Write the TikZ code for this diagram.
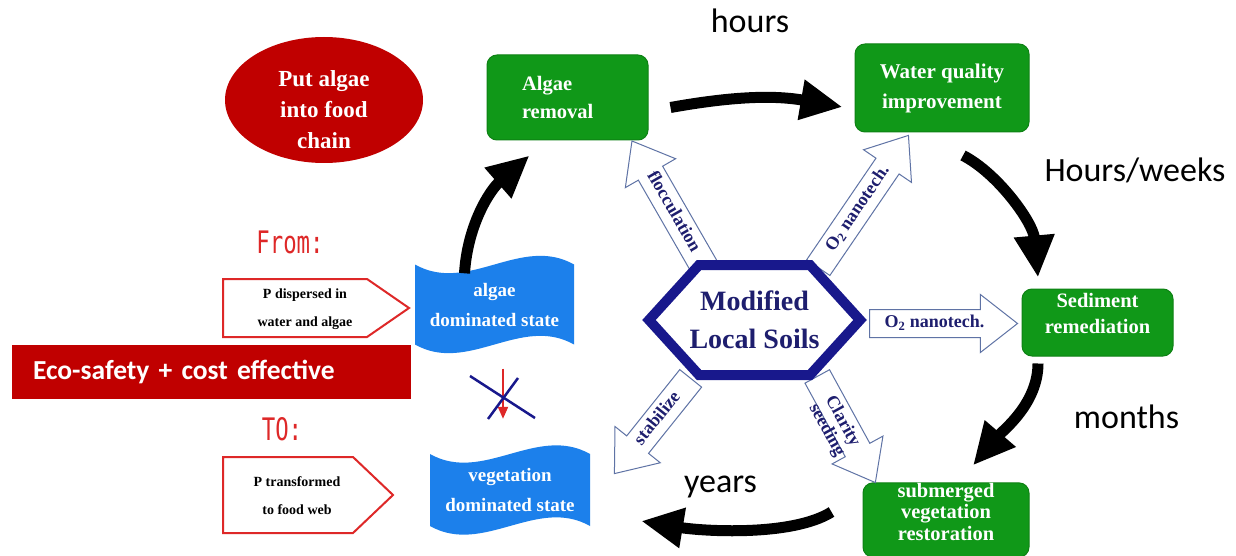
\documentclass[tikz,border=0pt]{standalone}
\usepackage{fontspec}
\setmainfont{Liberation Serif}
\newfontfamily\labelfont{Carlito}
\newfontfamily\gothicfont[FakeStretch=0.72]{DejaVu Sans Mono}
\usepackage{xcolor}
\usepackage{tikz}
\usetikzlibrary{arrows.meta}
\usetikzlibrary{shapes,positioning}

\definecolor{algaered}{RGB}{192,0,0}
\definecolor{boxgreen}{RGB}{16,152,24}
\definecolor{statblue}{RGB}{28,128,235}
\definecolor{soilnavy}{RGB}{24,24,140}
\definecolor{textnavy}{RGB}{30,30,110}
\definecolor{fromred}{RGB}{222,40,40}
\definecolor{outlineblue}{RGB}{95,115,165}

\tikzset{>=Triangle}
\tikzset{cycle-arrow/.style={line width=11pt, -{Triangle[length=42pt,width=38pt]}}}
\tikzset{green-box/.style={fill=boxgreen, draw=boxgreen!85!black, line width=1pt, rounded corners=10pt, text=white, inner sep=0pt, font=\fontsize{20.5}{28}\selectfont\bfseries, align=center}}
\tikzset{state-banner/.style={fill=white, inner sep=0pt, text=white, align=center, font=\fontsize{19}{30}\selectfont\bfseries,
    path picture={\fill[statblue] ([yshift=-9pt]path picture bounding box.north west) .. controls +(53pt,-30pt) and +(-53pt,30pt) .. ([yshift=-9pt]path picture bounding box.north east) -- ([yshift=9pt]path picture bounding box.south east) .. controls +(-53pt,30pt) and +(53pt,-30pt) .. ([yshift=9pt]path picture bounding box.south west) -- cycle;}}}
\tikzset{soil-arrow/.style={single arrow, draw=outlineblue, line width=1pt, fill=white, text=textnavy, font=\fontsize{18}{20}\selectfont\bfseries, minimum width=0pt, inner xsep=3pt, inner ysep=5.5pt, text height=12pt, text depth=4pt, single arrow head extend=15pt, single arrow tip angle=76, anchor=tail}}
\tikzset{soil-hex/.style={draw=soilnavy, line width=10pt, fill=white, line join=miter}}
\tikzset{soil-text/.style={text=textnavy, font=\fontsize{28}{38}\selectfont\bfseries, align=center}}
\tikzset{food-text/.style={text=white, font=\fontsize{23}{31}\selectfont\bfseries, align=center, inner sep=0pt}}
\tikzset{p-text/.style={font=\fontsize{14}{28}\selectfont\bfseries, align=center, inner sep=0pt}}
\tikzset{p-outline/.style={draw=fromred, line width=2pt, fill=white, line join=miter}}
\tikzset{time-label/.style={font=\labelfont\fontsize{34}{34}\selectfont, anchor=base}}
\tikzset{from-label/.style={font=\gothicfont\fontsize{31}{31}\selectfont, text=fromred, anchor=base}}
\tikzset{eco-box/.style={fill=algaered, text=white, font=\labelfont\bfseries\fontsize{27.5}{28}\selectfont, minimum height=54pt, text width=357pt, inner xsep=21pt, inner ysep=0pt, align=left}}
\tikzset{cross-line/.style={draw=soilnavy, line width=2.5pt}}
\tikzset{blocked-arrow/.style={draw=fromred, line width=2pt, -{Triangle[length=12pt,width=10pt]}}}

\begin{document}
\begin{tikzpicture}[x=1pt, y=-1pt]
            \path[use as bounding box, fill=white] (0,0) rectangle (1236,556);

            % left side
            \fill[algaered] (324,100) ellipse [x radius=99pt, y radius=63pt];
            \node[food-text] (food) at (324,110) {Put algae\\into food\\chain};
            \node[from-label] (from) at (290,253) {From:};
            \draw[p-outline] (223,279) -- (367,279) -- (409,308) -- (367,337) -- (223,337) -- cycle;
            \node[p-text] (pdisp) at (305,309) {P dispersed in\\water and algae};
            \node[eco-box] (eco) at (211.5,372) {Eco-safety + cost effective};
            \node[from-label] (to) at (282,440) {TO:};
            \draw[p-outline] (223,457) -- (353,457) -- (393,495) -- (353,533) -- (223,533) -- cycle;
            \node[p-text] (ptrans) at (297,496) {P transformed\\to food web};

            \node[state-banner, minimum width=159pt, minimum height=98pt] (algae) at (494.5,304.5) {algae\\dominated state};
            \node[state-banner, minimum width=160pt, minimum height=90pt] (veg) at (510,490) {vegetation\\dominated state};

            % green steps
            \node[green-box, minimum width=161pt, minimum height=85pt, text width=91pt, inner xsep=35pt, align=left] (removal) at (567.5,97.5) {Algae\\removal};
            \node[green-box, minimum width=174pt, minimum height=88pt, font=\fontsize{21}{30}\selectfont\bfseries] (waterq) at (942,88) {Water quality\\improvement};
            \node[green-box, minimum width=151pt, minimum height=67pt, font=\fontsize{20.5}{26}\selectfont\bfseries, text depth=19pt] (sed) at (1097.5,322.5) {Sediment\\remediation};
            \node[green-box, minimum width=166pt, minimum height=72pt, font=\fontsize{20.5}{21.5}\selectfont\bfseries, text depth=17pt] (subm) at (946,520) {submerged\\vegetation\\restoration};

            % modified local soils
            \node[soil-arrow, rotate=-60.1, shape border rotate=180, minimum height=146pt] (floc) at (705,268) {flocculation};
            \node[soil-arrow, rotate=55.7, minimum height=160pt] (otwo) at (818,268) {O\textsubscript{2} nanotech.};
            \node[soil-arrow, minimum height=148pt] (othree) at (869,323.5) {O\textsubscript{2} nanotech.};
            \node[soil-arrow, rotate=51.3, shape border rotate=180, minimum height=122pt] (stab) at (691,378) {stabilize};
            \node[soil-arrow, rotate=-61.3, minimum height=121pt] (clar) at (817,376) {\begin{tabular}[t]{@{}c@{}}Clarity\\[-2pt]seeding\end{tabular}};

            \coordinate (hexc) at (754.5,320);
            \draw[soil-hex] ([xshift=-105.5pt]hexc) -- ++(50pt,55pt) -- ++(111pt,0pt) -- ++(50pt,-55pt) -- ++(-50pt,-55pt) -- ++(-111pt,0pt) -- cycle;
            \node[soil-text] (soil) at (hexc) {Modified\\Local Soils};

            % cycle
            \draw[cycle-arrow] ([xshift=-30pt,yshift=-18pt]algae.north) .. controls +(3pt,48pt) and +(-40pt,-35pt) .. ([xshift=-38pt,yshift=-15pt]removal.south);
            \draw[cycle-arrow] ([xshift=22pt,yshift=-10pt]removal.east) to[bend left=10] ([xshift=-12pt,yshift=-19pt]waterq.west);
            \draw[cycle-arrow] ([xshift=21pt,yshift=-23pt]waterq.south) .. controls +(35pt,-18pt) and +(-5pt,55pt) .. ([xshift=-59.5pt,yshift=11pt]sed.north);
            \draw[cycle-arrow] ([xshift=-59.5pt,yshift=-7pt]sed.south) .. controls +(0pt,-40pt) and +(30pt,35pt) .. ([xshift=27pt,yshift=17pt]subm.north);
            \draw[cycle-arrow] ([xshift=-31pt,yshift=8pt]subm.west) .. controls +(-40pt,-25pt) and +(60pt,-10pt) .. ([xshift=51pt,yshift=-31pt]veg.east);

            % blocked shortcut
            \draw[blocked-arrow] ([xshift=8.5pt,yshift=-15pt]algae.south) -- ([xshift=-7pt,yshift=26pt]veg.north);
            \coordinate (cross) at (503,397);
            \draw[cross-line] ([shift={(-33pt,21pt)}]cross) -- ([shift={(32pt,-21pt)}]cross);
            \draw[cross-line] ([shift={(-15pt,-22pt)}]cross) -- ([shift={(15pt,19pt)}]cross);

            % time labels
            \node[time-label] (hours) at (750,33) {hours};
            \node[time-label] (weeks) at (1135,182) {Hours/weeks};
            \node[time-label] (months) at (1126.5,428) {months};
            \node[time-label] (years) at (720.5,492) {years};

        \end{tikzpicture}
\end{document}
